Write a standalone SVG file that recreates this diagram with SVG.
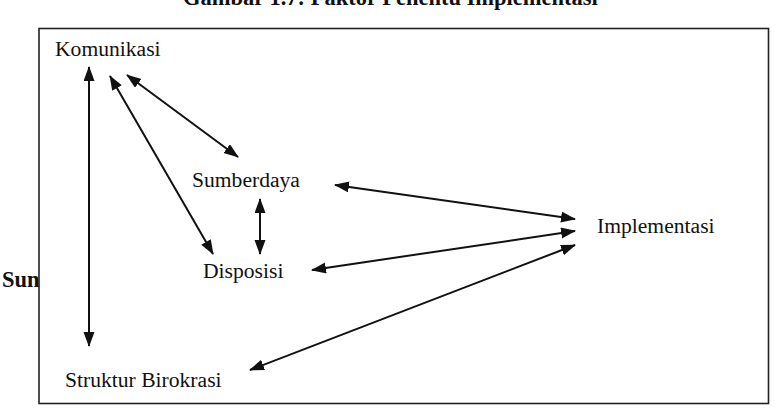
<svg xmlns="http://www.w3.org/2000/svg" width="779" height="408" viewBox="0 0 779 408">
<style>
.t{font-family:"Liberation Serif","Times New Roman",serif;font-size:21.6px;fill:#111}
.b{font-family:"Liberation Serif","Times New Roman",serif;font-size:22.5px;font-weight:bold;fill:#111}
.c{stroke:#111;stroke-width:2;fill:none;marker-start:url(#ah);marker-end:url(#ah)}
</style>
<defs>
<marker id="ah" markerUnits="userSpaceOnUse" markerWidth="16" markerHeight="12" refX="14" refY="5.5" orient="auto-start-reverse">
<path d="M0,0 L15,5.5 L0,11 z" fill="#111"/>
</marker>
</defs>
<rect width="779" height="408" fill="#fff"/>
<text class="b" x="183" y="5">Gambar 1.7: Faktor Penentu Implementasi</text>
<rect x="39" y="28.5" width="729.5" height="375" fill="none" stroke="#222" stroke-width="1.6"/>
<text class="b" x="2" y="287">Sun</text>
<g id="komunikasi"><text class="t" x="55" y="56">Komunikasi</text></g>
<g id="sumberdaya"><text class="t" x="192" y="187">Sumberdaya</text></g>
<g id="disposisi"><text class="t" x="203" y="278">Disposisi</text></g>
<g id="implementasi"><text class="t" x="597" y="233">Implementasi</text></g>
<g id="struktur"><text class="t" x="65" y="387">Struktur Birokrasi</text></g>
<g id="connectors">
<line class="c" x1="89" y1="67" x2="89" y2="346"/>
<line class="c" x1="110" y1="76" x2="213" y2="254"/>
<line class="c" x1="127" y1="75" x2="238" y2="157"/>
<line class="c" x1="260" y1="199" x2="260" y2="254"/>
<line class="c" x1="335" y1="185" x2="575" y2="219"/>
<line class="c" x1="312" y1="270" x2="575" y2="231"/>
<line class="c" x1="250" y1="370" x2="575" y2="245"/>
</g>
</svg>
